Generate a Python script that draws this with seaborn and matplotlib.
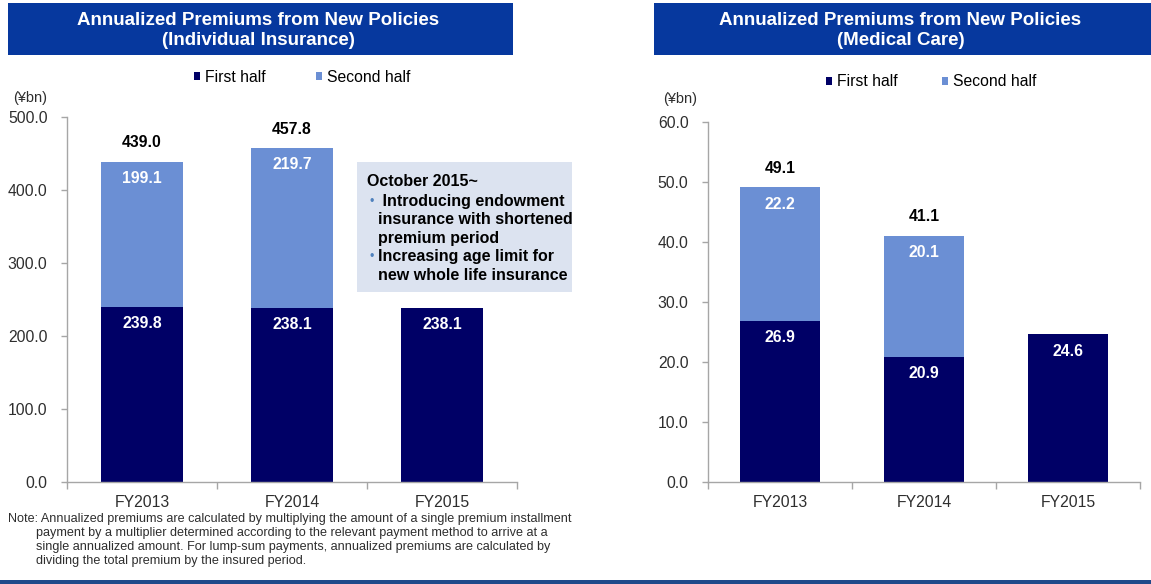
import numpy as np
import pandas as pd
import matplotlib
matplotlib.use("Agg")
import matplotlib.pyplot as plt
from matplotlib.patches import Rectangle, Patch
import seaborn as sns

# ---- data -------------------------------------------------------------
years = ["FY2013", "FY2014", "FY2015"]
indiv_first = [239.8, 238.1, 238.1]
indiv_second = [199.1, 219.7, np.nan]
indiv_total = [439.0, 457.8, np.nan]
med_first = [26.9, 20.9, 24.6]
med_second = [22.2, 20.1, np.nan]
med_total = [49.1, 41.1, np.nan]

indiv_ticks = [0, 100, 200, 300, 400, 500]
med_ticks = [0, 10, 20, 30, 40, 50, 60]

title_left = "Annualized Premiums from New Policies\n(Individual Insurance)"
title_right = "Annualized Premiums from New Policies\n(Medical Care)"
series_names = ["First half", "Second half"]
unit_label = "(¥bn)"
box_heading = "October 2015~"
box_lines = [
    ("•", " Introducing endowment"),
    ("", "insurance with shortened"),
    ("", "premium period"),
    ("•", "Increasing age limit for"),
    ("", "new whole life insurance"),
]
note_lines = [
    "Note: Annualized premiums are calculated by multiplying the amount of a single premium installment",
    "payment by a multiplier determined according to the relevant payment method to arrive at a",
    "single annualized amount. For lump-sum payments, annualized premiums are calculated by",
    "dividing the total premium by the insured period.",
]

# ---- style ------------------------------------------------------------
NAVY = "#000066"
LIGHT = "#6B8FD4"
HEADER = "#06389E"
AXIS_GREY = "#A6A6A6"
TEXT_GREY = "#2E2E2E"

sns.set_theme(style="white")
plt.rcParams["font.family"] = ["Liberation Sans", "DejaVu Sans"]

W, H = 1151, 584
fig = plt.figure(figsize=(W / 100, H / 100), dpi=100)


def fx(x):
    return x / W


def fy(y):
    return 1 - y / H


def draw_panel(rect, first, second, total, ticks, ymax, legend_x, legend_y, colsp, unit_xy):
    ax = fig.add_axes(rect)
    df = pd.DataFrame({"year": years, "first": first, "second": second})
    df["stack"] = df["first"] + df["second"].fillna(0)

    sns.barplot(data=df, x="year", y="stack", color=LIGHT, saturation=1,
                width=0.55, linewidth=0, ax=ax)
    sns.barplot(data=df, x="year", y="first", color=NAVY, saturation=1,
                width=0.55, linewidth=0, ax=ax)

    ax.set_xlim(-0.5, 2.5)
    ax.set_ylim(0, ymax)
    ax.set_yticks(ticks)
    ax.set_yticklabels([f"{t:.1f}" for t in ticks])
    ax.set_xlabel("")
    ax.set_ylabel("")

    for side in ("top", "right"):
        ax.spines[side].set_visible(False)
    for side in ("left", "bottom"):
        ax.spines[side].set_color(AXIS_GREY)
        ax.spines[side].set_linewidth(1.0)

    ax.tick_params(axis="y", which="major", left=True, length=4, width=1,
                   color=AXIS_GREY, labelsize=11.3, labelcolor=TEXT_GREY, pad=10)
    ax.tick_params(axis="x", which="major", bottom=False, labelsize=11.3,
                   labelcolor=TEXT_GREY, pad=3.5)
    ax.set_xticks([-0.5, 0.5, 1.5, 2.5], minor=True)
    ax.tick_params(axis="x", which="minor", bottom=True, length=5, width=1,
                   color=AXIS_GREY)

    # value labels
    for i in range(len(years)):
        f = first[i]
        s = second[i]
        t = total[i]
        ax.annotate(f"{f:.1f}", (i, f), xytext=(0, -12), textcoords="offset points",
                    ha="center", va="center", color="white", fontsize=11.3,
                    fontweight="bold")
        if not np.isnan(s):
            ax.annotate(f"{s:.1f}", (i, f + s), xytext=(0, -12),
                        textcoords="offset points", ha="center", va="center",
                        color="white", fontsize=11.3, fontweight="bold")
        if not np.isnan(t):
            ax.annotate(f"{t:.1f}", (i, t), xytext=(0, 13.5),
                        textcoords="offset points", ha="center", va="center",
                        color="black", fontsize=11.3, fontweight="bold")

    handles = [Patch(facecolor=NAVY, edgecolor="none"),
               Patch(facecolor=LIGHT, edgecolor="none")]
    fig.legend(handles, series_names, loc="center left",
               bbox_to_anchor=(fx(legend_x), fy(legend_y)), ncol=2,
               frameon=False, fontsize=11.3, handlelength=0.4, handleheight=0.4,
               handletextpad=0.3, columnspacing=colsp, borderpad=0,
               borderaxespad=0, labelcolor="black")
    fig.text(fx(unit_xy[0]), fy(unit_xy[1]), unit_label, ha="left", va="center",
             fontsize=10.5, color=TEXT_GREY)
    return ax


def header(x0, x1, text):
    fig.patches.append(Rectangle((fx(x0), fy(55)), fx(x1 - x0), 52 / H,
                                 transform=fig.transFigure, facecolor=HEADER,
                                 edgecolor="none", zorder=0))
    fig.text(fx((x0 + x1) / 2 - 2), fy(30.5), text, ha="center", va="center",
             color="white", fontsize=13.5, fontweight="bold", linespacing=1.2)


header(8, 513, title_left)
header(654, 1151, title_right)

draw_panel([fx(67), fy(482), fx(450), 365 / H], indiv_first, indiv_second,
           indiv_total, indiv_ticks, 500, 194, 77, 3.2, (13, 98))
draw_panel([fx(708), fy(482), fx(432), 360 / H], med_first, med_second,
           med_total, med_ticks, 60, 826, 82, 2.8, (663, 99))

# callout box
fig.patches.append(Rectangle((fx(357), fy(292)), fx(215), 130 / H,
                             transform=fig.transFigure, facecolor="#DCE3F0",
                             edgecolor="none", zorder=5))
fig.text(fx(367), fy(182), box_heading, ha="left", va="center", fontsize=11.5,
         fontweight="bold", color="black", zorder=6)
line_y = [202, 220, 238, 257, 276]
for (bullet, txt), yy in zip(box_lines, line_y):
    if bullet:
        fig.text(fx(369), fy(yy), bullet, ha="left", va="center", fontsize=9,
                 color="#4F81BD", zorder=6)
    fig.text(fx(378), fy(yy), txt, ha="left", va="center", fontsize=11.5,
             fontweight="bold", color="black", zorder=6)

# footnote
note_y = [519, 533, 547, 561]
for i, (txt, yy) in enumerate(zip(note_lines, note_y)):
    fig.text(fx(8 if i == 0 else 36), fy(yy), txt, ha="left", va="center",
             fontsize=9.1, color=TEXT_GREY)

# bottom rule
fig.patches.append(Rectangle((0, 0), 1, 4.5 / H, transform=fig.transFigure,
                             facecolor="#1F4A8A", edgecolor="none"))

fig.savefig("out.png", dpi=100)
